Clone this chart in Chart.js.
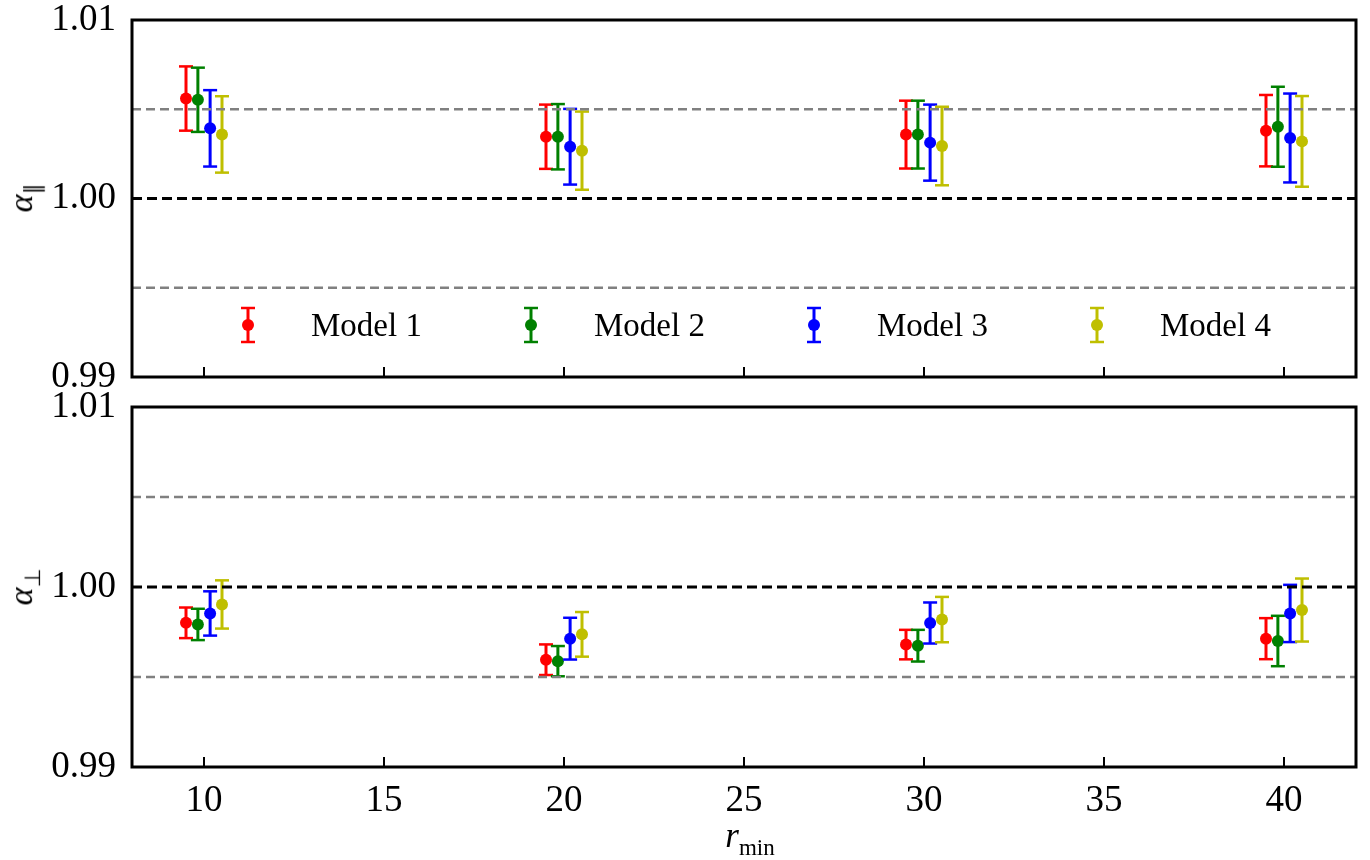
<!DOCTYPE html>
<html>
<head>
<meta charset="utf-8">
<script src="https://cdn.jsdelivr.net/npm/chart.js@4.4.2/dist/chart.umd.min.js"></script>
<style>
  html, body { margin: 0; padding: 0; background: #fff; }
  #wrap { position: relative; width: 1370px; height: 860px; font-family: 'Liberation Serif', serif; color: #000; }
  #wrap canvas { position: absolute; left: 0; top: 0; }
  .ylab { position: absolute; transform: translate(-50%, -50%) rotate(-90deg); font-size: 34px; white-space: nowrap; }
  .ylab sub { font-size: 22px; }
  #xlab { position: absolute; left: 750px; top: 816px; transform: translateX(-50%); font-size: 35px; white-space: nowrap; }
  #xlab sub { font-size: 23px; }
  #legend { position: absolute; left: 240px; top: 306px; display: flex; }
  .item { width: 283px; display: flex; align-items: center; font-size: 33px; }
  .item svg { margin-right: 55px; }
</style>
</head>
<body>
<div id="wrap">
  <canvas id="top" width="1370" height="860"></canvas>
  <canvas id="bottom" width="1370" height="860"></canvas>
  <div class="ylab" style="left:24px; top:198px;"><i>α</i><sub>∥</sub></div>
  <div class="ylab" style="left:24px; top:587px;"><i>α</i><sub>⊥</sub></div>
  <div id="xlab"><i>r</i><sub>min</sub></div>
  <div id="legend"></div>
</div>
<script>
// r_min values and horizontal shift of each model around them
const rMin = [10, 20, 30, 40];
const modelOffsets = [-0.5, -0.17, 0.17, 0.5];
const modelNames = ['Model 1', 'Model 2', 'Model 3', 'Model 4'];
const modelColors = ['#ff0000', '#008000', '#0000ff', '#bfbf00'];

// alpha parallel (top panel)
const parM1 = [1.0056, 1.00346, 1.00358, 1.0038];
const parM2 = [1.00553, 1.00346, 1.00358, 1.00402];
const parM3 = [1.00393, 1.0029, 1.00313, 1.00339];
const parM4 = [1.00359, 1.00268, 1.00294, 1.0032];
const parErrM1 = [0.0018, 0.0018, 0.0019, 0.002];
const parErrM2 = [0.0018, 0.00183, 0.0019, 0.00224];
const parErrM3 = [0.00214, 0.00212, 0.00213, 0.00249];
const parErrM4 = [0.00214, 0.00219, 0.0022, 0.00254];

// alpha perpendicular (bottom panel)
const perpM1 = [0.99801, 0.99596, 0.9968, 0.99713];
const perpM2 = [0.99792, 0.99588, 0.99674, 0.997];
const perpM3 = [0.99853, 0.99713, 0.998, 0.99853];
const perpM4 = [0.99903, 0.99737, 0.99819, 0.99872];
const perpErrM1 = [0.00085, 0.00085, 0.00082, 0.00114];
const perpErrM2 = [0.00087, 0.00084, 0.00088, 0.0014];
const perpErrM3 = [0.00123, 0.00116, 0.00114, 0.00159];
const perpErrM4 = [0.00134, 0.00124, 0.00126, 0.00175];

// reference lines
const refCenter = 1.0;
const refBand = [0.995, 1.005];
const xRange = [8, 42];
const yRange = [0.99, 1.01];
const yTicks = [0.99, 1.00, 1.01];
const xTickStep = 5;

const FONT = 'Liberation Serif';

// box around the plot area
const framePlugin = {
  id: 'frame',
  afterDatasetsDraw(chart) {
    const a = chart.chartArea, ctx = chart.ctx;
    ctx.save();
    ctx.strokeStyle = '#000';
    ctx.lineWidth = 3;
    ctx.strokeRect(a.left, a.top, a.right - a.left, a.bottom - a.top);
    ctx.restore();
  }
};

function refLine(y, color, width, dash) {
  return {
    type: 'line',
    data: [{ x: xRange[0], y: y }, { x: xRange[1], y: y }],
    borderColor: color,
    borderWidth: width,
    borderDash: dash,
    pointRadius: 0,
    fill: false
  };
}

function modelDatasets(values, errs, k) {
  const xs = rMin.map(r => r + modelOffsets[k]);
  const bars = [];
  xs.forEach((x, i) => {
    bars.push({ x: x, y: values[i] - errs[i] });
    bars.push({ x: x, y: values[i] + errs[i] });
    bars.push({ x: x, y: null });
  });
  return [
    {
      type: 'scatter',
      label: modelNames[k],
      data: xs.map((x, i) => ({ x: x, y: values[i] })),
      backgroundColor: modelColors[k],
      borderColor: modelColors[k],
      pointRadius: 6,
      pointHoverRadius: 6,
      borderWidth: 0
    },
    {
      type: 'line',
      data: bars,
      borderColor: modelColors[k],
      borderWidth: 3,
      spanGaps: false,
      pointStyle: 'line',
      pointRadius: 7,
      pointBorderWidth: 2.5,
      pointBorderColor: modelColors[k],
      fill: false
    }
  ];
}

function makePanel(id, vals, errs, padTop, axisHeight, showX) {
  let datasets = [];
  vals.forEach((v, k) => { datasets = datasets.concat(modelDatasets(v, errs[k], k)); });
  datasets.push(refLine(refCenter, '#000', 3, [10, 5]));
  datasets.push(refLine(refBand[0], '#808080', 2.5, [9, 5]));
  datasets.push(refLine(refBand[1], '#808080', 2.5, [9, 5]));
  // later datasets on top, like the original plot
  datasets.reverse();

  new Chart(document.getElementById(id), {
    type: 'scatter',
    data: { datasets: datasets },
    options: {
      responsive: false,
      animation: false,
      devicePixelRatio: 1,
      layout: { padding: { top: padTop, bottom: 0, left: 0, right: 14 } },
      plugins: { legend: { display: false }, tooltip: { enabled: false } },
      scales: {
        x: {
          type: 'linear',
          min: xRange[0],
          max: xRange[1],
          border: { display: false },
          grid: { drawOnChartArea: false, color: '#000', lineWidth: 2, tickLength: -10 },
          ticks: {
            display: showX,
            stepSize: xTickStep,
            includeBounds: false,
            autoSkip: false,
            maxRotation: 0,
            padding: 22,
            color: '#000',
            font: { family: FONT, size: 37 }
          },
          afterFit(s) { s.height = axisHeight; s.paddingLeft = 0; s.paddingRight = 0; }
        },
        y: {
          min: yRange[0],
          max: yRange[1],
          border: { display: false },
          grid: { drawOnChartArea: false, color: '#000', lineWidth: 2, tickLength: -10 },
          afterBuildTicks(s) { s.ticks = yTicks.map(v => ({ value: v })); },
          ticks: {
            padding: 26,
            color: '#000',
            font: { family: FONT, size: 37 },
            callback: v => v.toFixed(2)
          },
          afterFit(s) { s.width = 132; s.paddingTop = 0; s.paddingBottom = 0; }
        }
      }
    },
    plugins: [framePlugin]
  });
}

makePanel('top', [parM1, parM2, parM3, parM4], [parErrM1, parErrM2, parErrM3, parErrM4], 20, 860 - 377, false);
makePanel('bottom', [perpM1, perpM2, perpM3, perpM4], [perpErrM1, perpErrM2, perpErrM3, perpErrM4], 407, 860 - 767, true);

// legend inside the top panel
const legend = document.getElementById('legend');
modelNames.forEach((name, k) => {
  const c = modelColors[k];
  const item = document.createElement('div');
  item.className = 'item';
  item.innerHTML =
    '<svg width="16" height="38" viewBox="0 0 16 38">' +
    '<line x1="8" y1="2" x2="8" y2="36" stroke="' + c + '" stroke-width="3"/>' +
    '<line x1="1" y1="2" x2="15" y2="2" stroke="' + c + '" stroke-width="2.5"/>' +
    '<line x1="1" y1="36" x2="15" y2="36" stroke="' + c + '" stroke-width="2.5"/>' +
    '<circle cx="8" cy="19" r="6" fill="' + c + '"/></svg>' +
    '<span>' + name + '</span>';
  legend.appendChild(item);
});
</script>
</body>
</html>
